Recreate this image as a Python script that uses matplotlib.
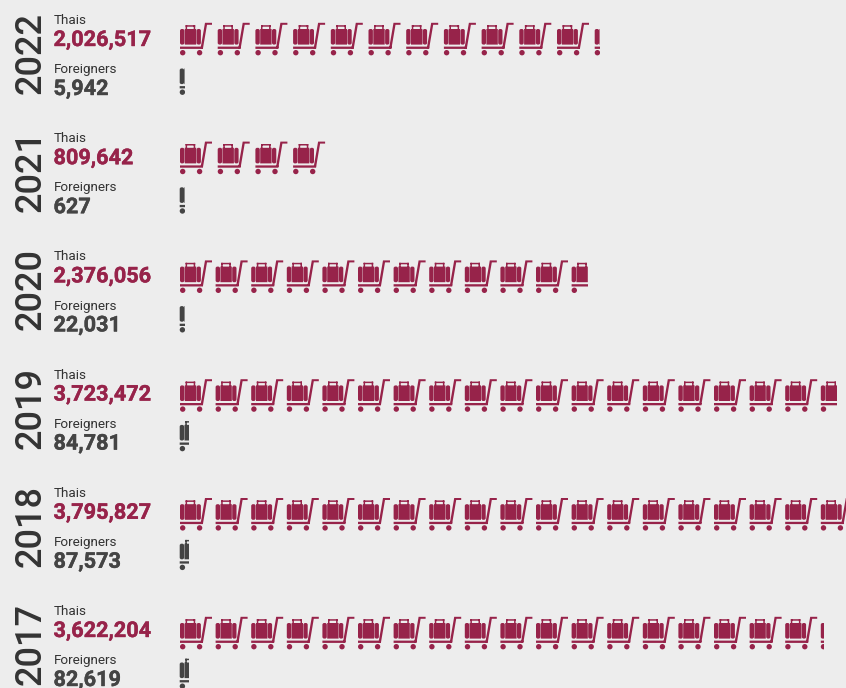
import math
import matplotlib
matplotlib.use('Agg')
import matplotlib.pyplot as plt
import matplotlib.patheffects as pe
from matplotlib.path import Path
from matplotlib.patches import PathPatch, Rectangle
from matplotlib.transforms import Affine2D

plt.rcParams['font.family'] = ['Roboto', 'DejaVu Sans']

years = ['2022', '2021', '2020', '2019', '2018', '2017']
thais = ['2,026,517', '809,642', '2,376,056', '3,723,472', '3,795,827', '3,622,204']
foreigners = ['5,942', '627', '22,031', '84,781', '87,573', '82,619']

# how many luggage carts each row shows
thai_carts = [11.15, 4.0, 11.47, 18.47, 18.8, 18.09]
foreign_carts = [0.15, 0.15, 0.15, 0.27, 0.27, 0.27]

RED = '#97234a'
GRAY = '#444444'
BG = '#ededed'
ICON_W = 34
ROW_STEP = 118.8
TEXT_STEP = 118.2
SPACING = [37.7, 37.7, 35.6, 35.6, 35.6, 35.6]


def rect(x0, y0, x1, y1):
    return Path([(x0, y0), (x1, y0), (x1, y1), (x0, y1), (x0, y0)], closed=True)


def round_rect(x0, y0, x1, y1, r):
    verts = [(x0 + r, y0), (x1 - r, y0), (x1, y0), (x1, y0 + r), (x1, y1 - r), (x1, y1),
             (x1 - r, y1), (x0 + r, y1), (x0, y1), (x0, y1 - r), (x0, y0 + r), (x0, y0),
             (x0 + r, y0), (x0 + r, y0)]
    codes = [Path.MOVETO, Path.LINETO, Path.CURVE3, Path.CURVE3, Path.LINETO, Path.CURVE3, Path.CURVE3,
             Path.LINETO, Path.CURVE3, Path.CURVE3, Path.LINETO, Path.CURVE3, Path.CURVE3, Path.CLOSEPOLY]
    return Path(verts, codes)


# cart icon, origin at top left of the icon, y pointing down
cart = Path.make_compound_path(
    round_rect(0, 5.8, 4.4, 21.4, 1.8),    # left strap
    rect(4.8, 5.8, 16.2, 21.4),            # case body
    round_rect(16.6, 5.8, 20.9, 21.4, 1.8),  # right strap
    rect(5.6, 2.0, 15.2, 3.5),             # handle
    rect(5.6, 2.0, 7.1, 6),
    rect(13.7, 2.0, 15.2, 6),
    rect(0, 23.4, 23, 25.7),               # base bar
    Path([(20.6, 25), (25, -0.4), (32, -0.4), (32, 1.6), (27, 1.6), (23, 25), (20.6, 25)], closed=True),  # pole
    Path.circle((2.7, 29.5), 2.7),
    Path.circle((19.6, 29.5), 2.7),
)


def draw_carts(ax, count, x0, y0, spacing, color):
    for i in range(math.ceil(count)):
        x = x0 + i * spacing
        frac = min(1, count - i)
        p = PathPatch(cart, facecolor=color, edgecolor='none',
                      transform=Affine2D().translate(x, y0) + ax.transData)
        ax.add_patch(p)
        p.set_clip_path(Rectangle((x - 2, y0 - 2), frac * ICON_W + 2, 40, transform=ax.transData))


fig = plt.figure(figsize=(8.46, 6.88), dpi=100, facecolor=BG)
ax = fig.add_axes([0, 0, 1, 1])
ax.set_xlim(0, 846)
ax.set_ylim(688, 0)
ax.axis('off')

for i, year in enumerate(years):
    off = i * TEXT_STEP
    ax.text(40.5, 53 + off, year, rotation=90, rotation_mode='anchor', ha='center', va='baseline',
            fontsize=26, fontweight='medium', color='#333333')
    ax.text(53.5, 24 + off, 'Thais', fontsize=9.7, color='#333333', va='baseline')
    ax.text(53.5, 46 + off, thais[i], fontsize=15.6, fontweight='bold', color=RED, va='baseline',
            path_effects=[pe.withStroke(linewidth=0.3, foreground=RED)])
    ax.text(53.5, 73.2 + off, 'Foreigners', fontsize=9.7, color='#333333', va='baseline')
    ax.text(53.5, 95 + off, foreigners[i], fontsize=15.6, fontweight='bold', color=GRAY, va='baseline',
            path_effects=[pe.withStroke(linewidth=0.3, foreground=GRAY)])
    draw_carts(ax, thai_carts[i], 180, 23.2 + i * ROW_STEP, SPACING[i], RED)
    draw_carts(ax, foreign_carts[i], 179.7, 62.7 + i * ROW_STEP, SPACING[i], GRAY)

fig.savefig('out.png', dpi=100, facecolor=BG)
